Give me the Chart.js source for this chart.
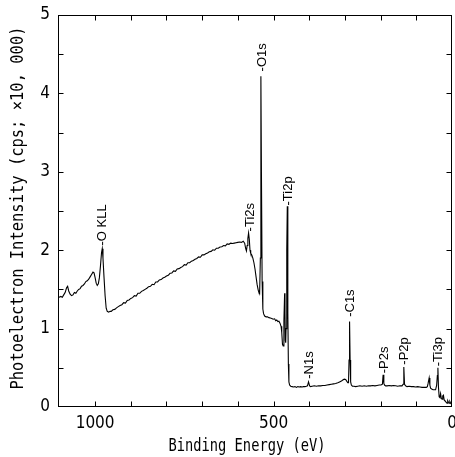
<!DOCTYPE html>
<html><head><meta charset="utf-8">
<script src="https://cdn.jsdelivr.net/npm/chart.js@4.4.1/dist/chart.umd.min.js"></script>
<style>html,body{margin:0;padding:0;background:#fff}#wrap{width:455px;height:457px;position:relative}</style>
</head><body><div id="wrap"><canvas id="c"></canvas></div>
<script>
// Binding energy (eV) and intensity (cps x 10,000)
const energies = [
 1104,1100,1096,1092,1088,1084,1080,1077,1074,1070,1066,1062,1058,1054,1050,1046,1042,1038,1034,1030,
 1026,1022,1018,1014,1010,1006,1003,1000,997,994,991,988,985,982,980,978,975,972,969,966,962,958,
 955,950,945,940,935,930,925,920,915,910,905,900,895,890,885,880,875,870,865,860,855,850,845,840,
 835,830,825,820,815,810,805,800,795,790,785,780,775,770,765,760,755,750,745,740,735,730,725,720,
 715,710,705,700,695,690,685,680,675,670,665,660,655,650,645,640,635,630,625,620,615,610,605,600,
 595,590,585,581,578,576,574,572,570,568,566,564,561,558,555,552,549,546,543,541,539,537,535.5,534,
 532,530,528,525,521,517,513,509,505,501,497,494,491,488,485,482,479,477,475,473,471,469,468,467,
 466,465,463,461.5,460,458.5,457,455,452,448,444,440,436,432,428,424,420,416,412,408,405,402,399,396,
 392,386,380,374,368,362,356,350,344,338,332,326,320,315,310,306,302,298,295,292,290,288.5,287,285.5,
 284,282,279,275,270,264,258,252,246,240,234,228,222,216,210,204,199,195,193,191,189,186,182,176,
 170,164,158,152,146,140,137,135,133,130,126,120,114,108,102,96,90,84,78,72,69,67,64,62,
 60,57,53,49,46,43,41,39.5,38,36,34,32,30,28,26,24,22,20,18,16,14,12,10,8,6,4,2,0
];
const intensities = [
 1.41,1.40,1.41,1.40,1.43,1.46,1.52,1.54,1.48,1.44,1.42,1.43,1.46,1.45,1.48,1.50,1.51,1.54,1.55,1.57,
 1.60,1.61,1.63,1.66,1.69,1.72,1.71,1.65,1.58,1.55,1.57,1.65,1.80,1.97,2.02,1.90,1.65,1.42,1.26,1.22,1.21,1.22,
 1.22,1.24,1.245,1.265,1.28,1.295,1.305,1.33,1.325,1.36,1.365,1.385,1.395,1.42,1.415,1.45,1.45,1.475,1.485,1.50,1.515,1.535,1.54,1.565,
 1.56,1.595,1.595,1.62,1.625,1.645,1.655,1.67,1.68,1.705,1.71,1.735,1.73,1.76,1.765,1.78,1.79,1.815,1.81,1.84,1.84,1.86,1.87,1.885,
 1.895,1.915,1.91,1.94,1.94,1.955,1.965,1.98,1.985,2.005,2.00,2.025,2.025,2.04,2.045,2.06,2.055,2.08,2.075,2.09,2.085,2.09,2.095,2.10,
 2.105,2.10,2.115,2.09,2.02,1.99,2.06,2.15,2.22,2.14,2.00,1.96,1.94,1.90,1.84,1.76,1.66,1.56,1.49,1.46,1.45,1.90,4.22,3.00,
 1.60,1.25,1.19,1.16,1.15,1.15,1.14,1.135,1.13,1.12,1.125,1.10,1.11,1.09,1.095,1.07,1.03,0.95,0.80,0.78,1.10,1.45,1.20,0.85,
 0.82,1.00,2.00,2.56,1.20,0.55,0.32,0.28,0.265,0.26,0.255,0.26,0.25,0.26,0.255,0.26,0.255,0.26,0.26,0.265,0.27,0.32,0.27,0.26,
 0.265,0.27,0.265,0.27,0.27,0.275,0.275,0.28,0.285,0.29,0.295,0.30,0.31,0.32,0.33,0.345,0.355,0.35,0.33,0.31,0.31,0.60,1.09,0.60,
 0.32,0.28,0.265,0.265,0.26,0.265,0.27,0.265,0.27,0.265,0.27,0.27,0.275,0.27,0.275,0.28,0.28,0.29,0.41,0.30,0.28,0.27,0.27,0.275,
 0.27,0.275,0.27,0.265,0.27,0.27,0.29,0.51,0.29,0.27,0.26,0.265,0.26,0.26,0.255,0.26,0.255,0.25,0.25,0.25,0.26,0.30,0.37,0.28,
 0.24,0.23,0.22,0.22,0.22,0.28,0.40,0.50,0.26,0.13,0.12,0.17,0.11,0.10,0.14,0.15,0.09,0.08,0.07,0.06,0.05,0.08,0.06,0.05,0.07,0.05,0.04,0.02
];
const peakNames = ['-O KLL','-Ti2s','-O1s','-Ti2p','-N1s','-C1s','-P2s','-P2p','-Ti3p'];
const peakEnergies = [981,567,533,460,401,287,191,134,39];
const peakLabelLevels = [2.06,2.24,4.28,2.57,0.36,1.15,0.43,0.54,0.52];
const xTickValues = [0,100,200,300,400,500,600,700,800,900,1000];
const yTickValues = [0,0.5,1,1.5,2,2.5,3,3.5,4,4.5,5];
const xLabelValues = [0,500,1000];
const yLabelValues = [0,1,2,3,4,5];
const xTitle = 'Binding Energy (eV)';
const yTitle = 'Photoelectron Intensity (cps; \u00d710, 000)';

const points = energies.map((e,i)=>({x:e,y:intensities[i]}));
const near = (v,list)=>list.some(l=>Math.abs(v-l)<1e-6);

const deco = {
  id:'deco',
  afterDraw(chart){
    const {ctx, chartArea:a, scales:{x,y}} = chart;
    ctx.save();
    ctx.strokeStyle='#000'; ctx.lineWidth=1;
    const L=Math.round(a.left)+0.5, R=Math.round(a.right)-0.5, T=Math.round(a.top)+0.5, B=Math.round(a.bottom)-0.5;
    ctx.strokeRect(L,T,R-L,B-T);
    ctx.beginPath();
    x.ticks.forEach(t=>{
      if (t.value<=0 || t.value>=x.max-5) return;
      const px=Math.round(x.getPixelForValue(t.value))+0.5;
      ctx.moveTo(px,B); ctx.lineTo(px,B-5);
      ctx.moveTo(px,T); ctx.lineTo(px,T+5);
    });
    y.ticks.forEach(t=>{
      if (t.value<=0 || t.value>=y.max) return;
      const py=Math.round(y.getPixelForValue(t.value))+0.5;
      ctx.moveTo(L,py); ctx.lineTo(L+5,py);
      ctx.moveTo(R,py); ctx.lineTo(R-5,py);
    });
    ctx.stroke();
    // peak labels
    ctx.fillStyle='#000';
    ctx.font='13px "Liberation Sans", Arial, sans-serif';
    ctx.textAlign='left'; ctx.textBaseline='middle';
    peakNames.forEach((n,i)=>{
      const px=x.getPixelForValue(peakEnergies[i]);
      const py=y.getPixelForValue(peakLabelLevels[i]);
      ctx.save(); ctx.translate(px+0.5,py); ctx.rotate(-Math.PI/2);
      ctx.fillText(n,0,0); ctx.restore();
    });
    // axis titles (narrow monospace look)
    ctx.font='17px "DejaVu Sans Mono", "Liberation Mono", monospace';
    ctx.textAlign='center'; ctx.textBaseline='middle';
    let w=ctx.measureText(xTitle).width;
    ctx.save(); ctx.translate(247,447); ctx.scale(157/w,1); ctx.fillText(xTitle,0,0); ctx.restore();
    w=ctx.measureText(yTitle).width;
    ctx.save(); ctx.translate(19,208); ctx.rotate(-Math.PI/2); ctx.scale(363/w,1); ctx.fillText(yTitle,0,0); ctx.restore();
    ctx.restore();
  }
};

const tickFont = {family:'"Liberation Sans Narrow", "DejaVu Sans Condensed", "Liberation Sans"',size:17};
Chart.defaults.color='#000';
new Chart(document.getElementById('c'),{
  type:'line',
  data:{datasets:[{data:points,borderColor:'#000',borderWidth:1.1,pointRadius:0,tension:0,fill:false}]},
  options:{
    responsive:true, maintainAspectRatio:false, animation:false,
    layout:{padding:{left:0,right:3,top:15,bottom:0}},
    plugins:{legend:{display:false},tooltip:{enabled:false}},
    scales:{
      x:{type:'linear',reverse:true,min:0,max:1104,
        grid:{display:false,drawTicks:false},border:{display:false},
        ticks:{autoSkip:false,maxRotation:0,minRotation:0,padding:6,font:tickFont,
          callback:v=>near(v,xLabelValues)?String(Math.round(v)):''},
        afterBuildTicks:s=>{s.ticks=xTickValues.map(v=>({value:v}));},
        afterFit:s=>{s.height=50;s.paddingLeft=0;s.paddingRight=0;}},
      y:{type:'linear',min:0,max:5,
        grid:{display:false,drawTicks:false},border:{display:false},
        ticks:{autoSkip:false,padding:8,font:tickFont,
          callback:v=>near(v,yLabelValues)?String(Math.round(v)):''},
        afterBuildTicks:s=>{s.ticks=yTickValues.map(v=>({value:v}));},
        afterFit:s=>{s.width=58;s.paddingTop=0;s.paddingBottom=0;}}
    }
  },
  plugins:[deco]
});
</script></body></html>
